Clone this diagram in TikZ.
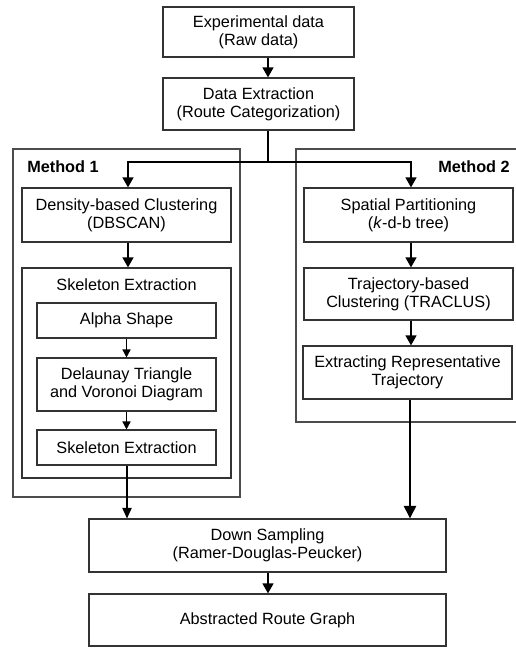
\documentclass[tikz,border=0pt]{standalone}
\usepackage{fontspec}
\setmainfont{Liberation Sans}
\usetikzlibrary{arrows.meta}
\begin{document}
\begin{tikzpicture}[x=0.75pt,y=-0.75pt,
  every node/.style={font=\fontsize{12.2}{13.6}\selectfont},
  box/.style={draw=black!80,line width=0.8pt,fill=white,inner sep=0pt,align=center},
  frame/.style={draw=black!70,line width=0.9pt},
  arr/.style={line width=1.6pt,-{Triangle[width=8pt,length=7.5pt]}},
  thinarr/.style={line width=1.1pt,-{Triangle[width=6pt,length=6pt]}},
  midarr/.style={line width=1.2pt,-{Triangle[width=7pt,length=8pt]}},
  bigarr/.style={line width=2.1pt,-{Triangle[width=9pt,length=9.5pt]}},
  ttl/.style={font=\fontsize{12.2}{13.6}\selectfont\bfseries,inner sep=0pt}]
\useasboundingbox (0,0) rectangle (516,648);
\clip (0,0) rectangle (516,648);
% frames
\draw[frame] (13,149) rectangle (240,497);
\draw[frame] (296,149) rectangle (540,422);
\node[ttl,anchor=west] (m1) at (27,167) {Method 1};
\node[ttl,anchor=east] (m2) at (510,167) {Method 2};
% nodes
\node[box,minimum width=143.25pt,minimum height=37.5pt] (exp) at (258.5,32) {Experimental data\\(Raw data)};
\node[box,minimum width=143.25pt,minimum height=39pt] (ext) at (258.5,104) {Data Extraction\\(Route Categorization)};
\node[box,minimum width=156.75pt,minimum height=40.5pt] (dens) at (126.5,215) {Density-based Clustering\\(DBSCAN)};
\node[box,minimum width=156.75pt,minimum height=157.5pt] (skel) at (126.5,373) {};
\node[inner sep=0pt] (skt) at (126.5,285) {Skeleton Extraction};
\node[box,minimum width=134.25pt,minimum height=26.25pt] (alpha) at (126.5,320.5) {Alpha Shape};
\node[box,minimum width=134.25pt,minimum height=39.75pt] (del) at (126.5,384.5) {Delaunay Triangle\\and Voronoi Diagram};
\node[box,minimum width=134.25pt,minimum height=26.25pt] (skin) at (126.5,447.5) {Skeleton Extraction};
\node[box,minimum width=156.75pt,minimum height=40.5pt] (spat) at (408.5,215) {Spatial Partitioning\\(\textit{k}-d-b tree)};
\node[box,minimum width=156.75pt,minimum height=39pt] (trac) at (408.5,294) {Trajectory-based\\Clustering (TRACLUS)};
\node[box,minimum width=156.75pt,minimum height=39.75pt] (rep) at (407.5,372.5) {Extracting Representative\\Trajectory};
\node[box,minimum width=267.75pt,minimum height=39.75pt] (down) at (267.5,545.5) {Down Sampling\\(Ramer-Douglas-Peucker)};
\node[box,minimum width=267.75pt,minimum height=39pt] (abs) at (267.5,620) {Abstracted Route Graph};
% junction
\coordinate (j) at (268,162);
% connectors
\draw[arr] (exp.south -| j) -- (ext.north -| j);
\draw[line width=1.6pt] (ext.south -| j) -- (j);
\draw[arr] (j) -- (128,162) -- (dens.north -| 128,0);
\draw[arr] (j) -- (411,162) -- (spat.north -| 411,0);
\draw[arr] (dens.south -| 128,0) -- (skel.north -| 128,0);
\draw[thinarr] (alpha) -- (del);
\draw[thinarr] (del) -- (skin);
\draw[midarr] (skin.south -| 127,0) -- (down.north -| 127,0);
\draw[arr] (spat.south -| 411,0) -- (trac.north -| 411,0);
\draw[arr] (trac.south -| 411,0) -- (rep.north -| 411,0);
\draw[bigarr] (rep.south -| 410,0) -- (down.north -| 410,0);
\draw[arr] (down.south -| j) -- (abs.north -| j);
\end{tikzpicture}
\end{document}
